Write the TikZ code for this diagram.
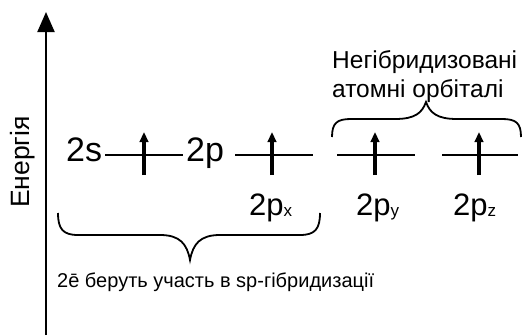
\documentclass[tikz,border=0pt]{standalone}
\usepackage{fontspec}
\setmainfont{Liberation Sans}
\usetikzlibrary{arrows.meta}
\begin{document}
\begin{tikzpicture}[x=1pt,y=-1pt,
  lvl/.style={line width=2.4pt},
  elec/.style={line width=3.2pt,-{Triangle[length=10pt,width=8.5pt]}},
  axis/.style={line width=2pt,-{Triangle[length=20pt,width=17pt]}},
  brace/.style={line width=1.8pt,line join=miter},
  big/.style={font=\fontsize{34}{36}\selectfont, inner xsep=3pt, inner ysep=0pt},
  plab/.style={font=\fontsize{31}{34}\selectfont, inner sep=0pt, anchor=base west},
  small/.style={font=\fontsize{20}{22}\selectfont, inner sep=0pt},
  upper/.style={font=\fontsize{24.5}{29}\selectfont, inner sep=0pt, align=left},
  ylab/.style={font=\fontsize{26.5}{28}\selectfont, inner sep=0pt, rotate=90}
]
\newcommand{\sbx}[1]{\raisebox{-1.5pt}{\fontsize{17}{17}\selectfont #1}}
\useasboundingbox (0,0) rectangle (525,335);
% energy axis
\coordinate (ax0) at (46,335);
\coordinate (ax1) at (46,12);
\draw[axis] (ax0) -- (ax1);
\node[ylab] (en) at (23,162) {Енергія};
% 2s and 2p labels
\node[big,anchor=base west] (s2) at (63,161) {2s};
\node[big,anchor=base west] (p2) at (183,161) {2p};
\draw[lvl] (s2.east |- 0,155) -- (p2.west |- 0,155);
\coordinate (e1b) at (144,175); \coordinate (e1t) at (144,132);
\draw[elec] (e1b) -- (e1t);
% p levels
\coordinate (l2a) at (235,155); \coordinate (l2b) at (313,155);
\coordinate (l3a) at (337,155); \coordinate (l3b) at (415,155);
\coordinate (l4a) at (442,155); \coordinate (l4b) at (518,155);
\draw[lvl] (l2a) -- (l2b);
\draw[lvl] (l3a) -- (l3b);
\draw[lvl] (l4a) -- (l4b);
\coordinate (e2b) at (272,175); \coordinate (e2t) at (272,132);
\coordinate (e3b) at (375,175); \coordinate (e3t) at (375,132);
\coordinate (e4b) at (479,175); \coordinate (e4t) at (479,132);
\draw[elec] (e2b) -- (e2t);
\draw[elec] (e3b) -- (e3t);
\draw[elec] (e4b) -- (e4t);
\node[plab] (px) at (249,215) {2p\sbx{x}};
\node[plab] (py) at (356,215) {2p\sbx{y}};
\node[plab] (pz) at (453,215) {2p\sbx{z}};
% upper brace and text
\draw[brace] (332,137) .. controls (332,123) and (337,119) .. (351,119) -- (395,119)
  .. controls (415,119) and (422,113) .. (426,102)
  .. controls (430,113) and (437,119) .. (457,119) -- (502,119)
  .. controls (516,119) and (521,123) .. (521,137);
\node[upper,anchor=base west] (ut) at (332,97) {Негібридизовані\\атомні орбіталі};
% lower brace and text
\draw[brace] (58,213) .. controls (58,229) and (63,235) .. (78,235) -- (160,235)
  .. controls (180,235) and (187,244) .. (190,260)
  .. controls (193,244) and (200,235) .. (220,235) -- (300,235)
  .. controls (315,235) and (320,229) .. (320,213);
\node[small,anchor=base west] (lt) at (57,287) {2ē беруть участь в sp-гібридизації};
\end{tikzpicture}
\end{document}
